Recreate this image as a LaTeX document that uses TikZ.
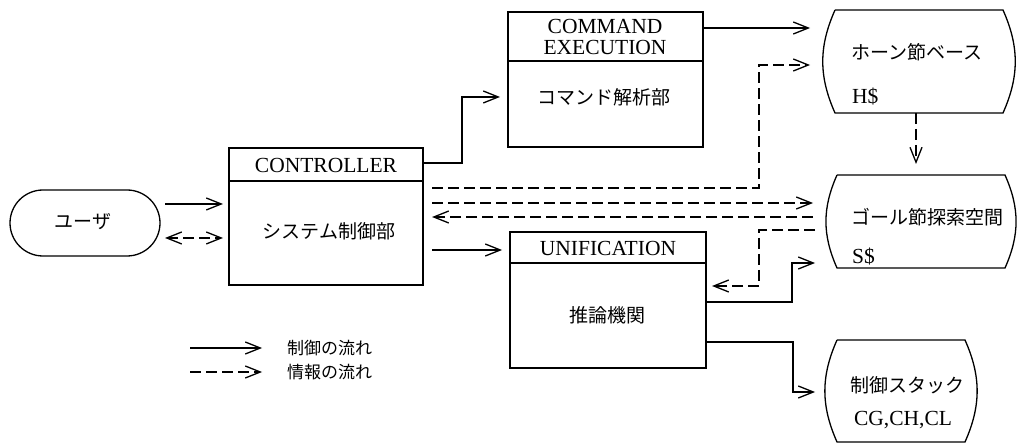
\documentclass[tikz,border=0pt]{standalone}
\usepackage{fontspec}
\setmainfont{Liberation Serif}
\newfontfamily\jp{Noto Sans CJK JP}
\usetikzlibrary{arrows.meta,calc}
\newcommand\barrel[1]{%
  \draw[line width=1.3pt] ([xshift=12pt]#1.north west) -- ([xshift=-12pt]#1.north east)
    to[bend left=24] ([xshift=-12pt]#1.south east) -- ([xshift=12pt]#1.south west)
    to[bend left=24] ([xshift=12pt]#1.north west);}
\tikzset{
  box/.style={draw, line width=1.3pt, inner sep=0pt, outer sep=0pt},
  store/.style={draw=none, inner sep=0pt, outer sep=0pt},
  lat/.style={font=\fontsize{21.5}{21.5}\selectfont, inner sep=0pt},
  jtx/.style={font=\jp\fontsize{19}{19}\selectfont, inner sep=0pt},
  ljtx/.style={font=\jp\fontsize{17}{17}\selectfont, inner sep=0pt, anchor=west},
  tip/.tip={Straight Barb[length=15pt,width=12pt,line width=1.3pt]},
  ctl/.style={line width=1.3pt, -tip},
  inf/.style={line width=1.3pt, -tip, dash pattern=on 11pt off 5pt},
}
\begin{document}
\begin{tikzpicture}[x=1pt,y=-1pt]
\useasboundingbox (0,0) rectangle (1020,446);
% nodes
\node[box, rounded corners=33pt, minimum width=150pt, minimum height=66pt] (user) at (85,223) {};
\node[jtx] (usert) at (83,222) {ユーザ};

\node[box, minimum width=194pt, minimum height=137pt] (ctrl) at (326,216.5) {};
\draw[line width=1.3pt] (ctrl.west |- 0,181) -- (ctrl.east |- 0,181);
\node[lat] (ctrlh) at (326,165) {CONTROLLER};
\node[jtx] (ctrlt) at (329,231) {システム制御部};

\node[box, minimum width=195pt, minimum height=135pt] (cmd) at (605.5,79.5) {};
\draw[line width=1.3pt] (cmd.west |- 0,61) -- (cmd.east |- 0,61);
\node[lat, align=center] (cmdh) at (605,37) {COMMAND\\[-1pt]EXECUTION};
\node[jtx] (cmdt) at (604,97) {コマンド解析部};

\node[box, minimum width=196pt, minimum height=136pt] (unif) at (608,300) {};
\draw[line width=1.3pt] (unif.west |- 0,263) -- (unif.east |- 0,263);
\node[lat] (unifh) at (608,248) {UNIFICATION};
\node[jtx] (unift) at (607,315) {推論機関};

\node[store, minimum width=192pt, minimum height=103pt] (horn) at (919,61.5) {};
\barrel{horn}
\node[jtx] (hornt) at (917,52) {ホーン節ベース};
\node[lat, anchor=west] (hornl) at (852,97) {H\$};

\node[store, minimum width=192pt, minimum height=93pt] (goal) at (921,221.5) {};
\barrel{goal}
\node[jtx] (goalt) at (927,217) {ゴール節探索空間};
\node[lat, anchor=west] (goall) at (852,257) {S\$};

\node[store, minimum width=152pt, minimum height=102pt] (stack) at (901,391) {};
\barrel{stack}
\node[jtx] (stackt) at (907,385) {制御スタック};
\node[lat] (stackl) at (903,420) {CG,CH,CL};

% connectors
\draw[ctl, shorten <=5pt, shorten >=6pt] (user.east |- 0,204) -- (ctrl.west |- 0,204);
\draw[inf, tip-tip, shorten <=5pt, shorten >=6pt] (user.east |- 0,238) -- (ctrl.west |- 0,238);

\draw[ctl, shorten >=8pt] (ctrl.east |- 0,163) -- (462,163) |- (cmd.west |- 0,97);
\draw[ctl, shorten >=13pt] (cmd.east |- 0,28) -- (horn.west |- 0,28);
\draw[inf, shorten <=9pt, shorten >=13pt] (ctrl.east |- 0,188) -- (759,188) |- (horn.west |- 0,65);
\draw[inf, shorten <=9pt, shorten >=12pt] (ctrl.east |- 0,203) -- (goal.west |- 0,203);
\draw[inf, shorten <=12pt, shorten >=9pt] (goal.west |- 0,217) -- (ctrl.east |- 0,217);
\draw[ctl, shorten <=9pt, shorten >=8pt] (ctrl.east |- 0,250) -- (unif.west |- 0,250);
\draw[inf, shorten <=10pt, shorten >=6pt] (goal.west |- 0,230) -- (759,230) |- (unif.east |- 0,286);
\draw[ctl, shorten >=10pt] (unif.east |- 0,302) -- (792,302) |- (goal.west |- 0,263);
\draw[ctl, shorten >=10pt] (unif.east |- 0,342) -- (793,342) |- (stack.west |- 0,392);
\draw[inf, shorten >=11pt] (horn.south -| 916,0) -- (goal.north -| 916,0);

% legend
\coordinate (l1a) at (190,348); \coordinate (l1b) at (262,348);
\coordinate (l2a) at (190,372); \coordinate (l2b) at (262,372);
\draw[ctl] (l1a) -- (l1b);
\draw[inf] (l2a) -- (l2b);
\node[ljtx] (leg1) at (287,348) {制御の流れ};
\node[ljtx] (leg2) at (287,372) {情報の流れ};
\end{tikzpicture}
\end{document}
